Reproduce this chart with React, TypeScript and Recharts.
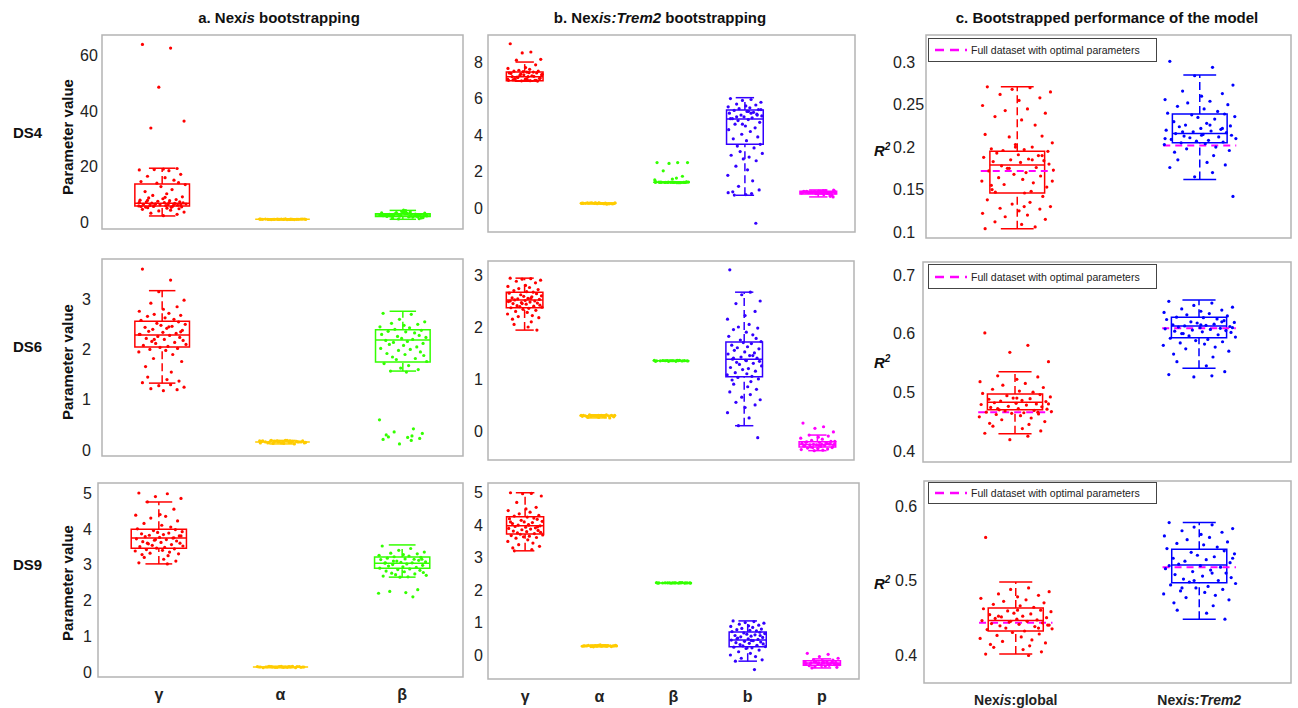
import React from 'react';
import { ComposedChart, XAxis, YAxis, Scatter, ReferenceArea, ReferenceLine } from 'recharts';

// category labels
const paramCatsA = ['γ', 'α', 'β'];
const paramCatsB = ['γ', 'α', 'β', 'b', 'p'];
const modelCats = ['Nexis:global', 'Nexis:Trem2'];

const colorsA = ['#ff0000', '#ffcc00', '#33ff00'];
const colorsB = ['#ff0000', '#ffcc00', '#33ff00', '#3300ff', '#ff00ff'];
const colorsC = ['#ff0000', '#0000ff'];

// hand-placed horizontal jitter (fraction of spread)
const JIT = [-0.82, 0.35, -0.14, 0.91, -0.47, 0.62, 0.05, -0.95, 0.28, -0.33, 0.77, -0.61, 0.12, 0.49, -0.88, 0.68, -0.22, 0.96, -0.05, 0.41,
  -0.71, 0.19, -0.39, 0.84, -0.56, 0.03, 0.58, -0.92, 0.31, -0.18, 0.73, -0.66, 0.09, 0.87, -0.43, 0.52, -0.27, 0.99, -0.78, 0.24,
  -0.09, 0.64, -0.51, 0.15, -0.97, 0.44, -0.36, 0.81, -0.69, 0.38, -0.6, 0.2, 0.7];

// box stats: [q1, median, q3, lowWhisker, highWhisker]
const a4Stats = [[5.8, 6.8, 13.7, 2.2, 19.4], [1.0, 1.0, 1.0, 0.8, 1.2], [2.0, 2.5, 3.0, 1.0, 4.2]];
const a4Points = [
  [64.0, 62.7, 48.6, 36.4, 33.9, 19.3, 19.1, 18.8, 18.5, 18.9, 17.2, 16.5, 16.0, 15.1, 14.6, 14.2, 14.0, 13.5, 12.8, 11.7, 11.0, 10.2, 9.6, 9.1, 8.7, 8.4, 8.1, 7.9, 7.7, 7.5, 7.3, 7.2, 7.0, 6.9, 6.8, 6.7, 6.6, 6.5, 6.4, 6.3, 6.2, 6.1, 6.0, 5.9, 5.8, 5.7, 5.6, 5.5, 5.4, 5.3, 5.2, 5.0, 4.8, 4.6, 4.3, 4.0, 3.6, 3.2, 2.8, 2.3, 7.1, 6.9, 5.9, 6.2, 7.8, 8.9, 6.4, 5.6],
  [1.0, 1.05, 0.95, 1.1, 0.9, 1.02, 0.98, 1.08, 0.92, 1.0, 1.04, 0.96, 1.12, 0.88, 1.01, 0.99, 1.06, 0.94, 1.03, 0.97, 1.09, 0.91, 1.0, 1.07, 0.93, 1.02, 0.98, 1.05, 0.95, 1.0],
  [2.3, 2.8, 2.1, 3.2, 2.6, 1.9, 3.5, 2.4, 2.0, 3.0, 1.5, 2.7, 4.1, 2.2, 3.3, 1.2, 2.9, 2.5, 3.8, 1.8, 2.6, 3.1, 2.3, 1.6, 2.8, 4.3, 2.1, 2.4, 3.6, 1.1, 2.7, 2.0, 3.0, 2.5, 1.4, 2.9, 3.4, 2.2, 2.6, 1.9, 2.4, 2.7, 2.2, 3.1],
];

const b4Stats = [[6.97, 7.2, 7.45, 6.95, 8.0], [0.27, 0.27, 0.27, 0.25, 0.3], [1.42, 1.42, 1.42, 1.4, 1.44], [3.5, 4.88, 5.37, 0.71, 6.05], [0.78, 0.86, 0.93, 0.62, 1.0]];
const b4Points = [
  [9.0, 8.55, 8.5, 8.15, 8.1, 7.85, 7.7, 7.65, 7.6, 7.55, 7.5, 7.5, 7.45, 7.45, 7.4, 7.4, 7.35, 7.3, 7.3, 7.25, 7.2, 7.2, 7.15, 7.1, 7.1, 7.05, 7.0, 7.0, 6.98, 6.97, 6.96, 7.02, 7.08, 7.12, 7.18, 7.22, 7.28, 7.33, 7.38, 7.42, 7.48, 7.0, 6.99, 7.03, 7.06],
  [0.27, 0.25, 0.29, 0.26, 0.28, 0.24, 0.3, 0.27, 0.26, 0.28, 0.25, 0.29, 0.27, 0.22, 0.28, 0.26, 0.27, 0.29, 0.25, 0.28, 0.27, 0.26, 0.3, 0.24, 0.27, 0.28, 0.26, 0.27, 0.25, 0.28],
  [2.5, 2.5, 2.45, 2.5, 2.05, 1.75, 1.6, 1.55, 1.65, 1.42, 1.41, 1.43, 1.42, 1.4, 1.44, 1.42, 1.41, 1.43, 1.42, 1.4, 1.43, 1.42, 1.41, 1.44, 1.42, 1.43, 1.41, 1.42, 1.4, 1.43, 1.42, 1.41, 1.42, 1.43],
  [6.0, 5.95, 5.9, 5.8, 5.7, 5.65, 5.6, 5.55, 5.5, 5.45, 5.4, 5.35, 5.3, 5.25, 5.2, 5.15, 5.1, 5.05, 5.0, 4.95, 4.9, 4.85, 4.8, 4.7, 4.6, 4.5, 4.4, 4.3, 4.2, 4.05, 3.9, 3.8, 3.7, 3.5, 3.4, 3.3, 3.1, 3.0, 2.9, 2.8, 2.7, 2.6, 2.3, 2.1, 1.8, 1.5, 1.2, 1.0, 0.9, 0.8, 0.72, 5.3, 5.1, 4.9, 5.2, 4.6, 5.4, 5.0, -0.82, 0.75, 0.85],
  [0.92, 0.85, 0.8, 0.95, 0.88, 0.78, 0.9, 0.83, 0.97, 0.86, 0.72, 0.89, 0.93, 0.81, 0.87, 0.65, 0.91, 0.84, 0.79, 0.96, 0.88, 0.82, 0.9, 0.62, 0.86, 0.94, 0.8, 0.87, 0.75, 0.89, 0.85, 0.92, 0.83, 0.99, 0.86],
];

const c4Stats = [[0.146, 0.179, 0.195, 0.104, 0.271], [0.205, 0.216, 0.239, 0.162, 0.285]];
const c4Refs = [0.172, 0.202];
const c4Points = [
  [0.271, 0.27, 0.268, 0.265, 0.262, 0.258, 0.255, 0.249, 0.245, 0.243, 0.24, 0.236, 0.232, 0.226, 0.215, 0.213, 0.212, 0.205, 0.203, 0.2, 0.198, 0.197, 0.196, 0.195, 0.193, 0.191, 0.19, 0.188, 0.186, 0.185, 0.184, 0.183, 0.182, 0.18, 0.178, 0.176, 0.175, 0.173, 0.172, 0.17, 0.168, 0.166, 0.164, 0.162, 0.16, 0.158, 0.156, 0.153, 0.15, 0.148, 0.147, 0.146, 0.142, 0.138, 0.135, 0.133, 0.13, 0.128, 0.127, 0.125, 0.122, 0.12, 0.118, 0.115, 0.112, 0.109, 0.106, 0.104, 0.19, 0.175, 0.16, 0.2, 0.185, 0.155, 0.13],
  [0.301, 0.294, 0.284, 0.273, 0.266, 0.263, 0.26, 0.256, 0.254, 0.252, 0.25, 0.248, 0.245, 0.242, 0.24, 0.239, 0.238, 0.236, 0.235, 0.233, 0.23, 0.228, 0.226, 0.225, 0.224, 0.222, 0.221, 0.22, 0.219, 0.218, 0.217, 0.216, 0.215, 0.214, 0.213, 0.212, 0.211, 0.21, 0.209, 0.208, 0.207, 0.206, 0.205, 0.204, 0.203, 0.2, 0.198, 0.196, 0.194, 0.19, 0.185, 0.182, 0.179, 0.176, 0.17, 0.165, 0.142, 0.218, 0.222, 0.214, 0.21, 0.226],
];

const a6Stats = [[2.05, 2.29, 2.56, 1.33, 3.17], [0.16, 0.16, 0.16, 0.12, 0.19], [1.75, 2.19, 2.39, 1.57, 2.76]];
const a6Points = [
  [3.6, 3.38, 3.15, 2.98, 2.92, 2.85, 2.8, 2.76, 2.72, 2.7, 2.68, 2.66, 2.63, 2.6, 2.58, 2.55, 2.52, 2.5, 2.48, 2.46, 2.44, 2.42, 2.4, 2.38, 2.36, 2.34, 2.32, 2.3, 2.28, 2.26, 2.24, 2.22, 2.2, 2.18, 2.16, 2.14, 2.12, 2.1, 2.08, 2.06, 2.04, 2.02, 2.0, 1.98, 1.95, 1.9, 1.82, 1.76, 1.66, 1.55, 1.45, 1.4, 1.37, 1.34, 1.3, 1.28, 1.25, 1.22, 1.2, 1.18, 2.3, 2.45, 2.2, 2.35],
  [0.18, 0.15, 0.17, 0.14, 0.19, 0.16, 0.13, 0.18, 0.15, 0.17, 0.16, 0.14, 0.19, 0.12, 0.17, 0.16, 0.18, 0.15, 0.14, 0.17, 0.16, 0.19, 0.13, 0.18, 0.15, 0.16, 0.17, 0.14, 0.18, 0.16],
  [2.72, 2.7, 2.6, 2.55, 2.52, 2.5, 2.48, 2.45, 2.43, 2.4, 2.38, 2.36, 2.35, 2.33, 2.3, 2.28, 2.26, 2.24, 2.22, 2.2, 2.18, 2.16, 2.14, 2.12, 2.1, 2.08, 2.05, 2.02, 2.0, 1.98, 1.95, 1.92, 1.9, 1.88, 1.85, 1.82, 1.8, 1.76, 1.72, 1.68, 1.63, 1.6, 1.57, 1.55, 0.6, 0.42, 0.36, 0.33, 0.3, 0.28, 0.26, 0.25, 0.23, 0.21, 0.19, 0.12],
];

const b6Stats = [[2.37, 2.52, 2.67, 1.94, 2.94], [0.29, 0.29, 0.29, 0.25, 0.31], [1.35, 1.35, 1.35, 1.34, 1.36], [1.04, 1.38, 1.71, 0.1, 2.67], [-0.31, -0.26, -0.21, -0.38, -0.08]];
const b6Points = [
  [2.94, 2.93, 2.92, 2.9, 2.88, 2.85, 2.8, 2.78, 2.76, 2.74, 2.72, 2.7, 2.68, 2.67, 2.65, 2.64, 2.62, 2.6, 2.59, 2.58, 2.56, 2.55, 2.54, 2.53, 2.52, 2.51, 2.5, 2.49, 2.48, 2.47, 2.46, 2.45, 2.44, 2.42, 2.41, 2.4, 2.39, 2.38, 2.37, 2.36, 2.34, 2.32, 2.3, 2.28, 2.25, 2.22, 2.2, 2.18, 2.15, 2.1, 2.05, 2.0, 1.94, 2.5, 2.55, 2.45],
  [0.3, 0.28, 0.29, 0.27, 0.31, 0.29, 0.26, 0.3, 0.28, 0.29, 0.3, 0.27, 0.29, 0.31, 0.28, 0.25, 0.29, 0.3, 0.28, 0.27, 0.29, 0.3, 0.28, 0.29, 0.26, 0.3],
  [1.35, 1.36, 1.34, 1.35, 1.355, 1.345, 1.35, 1.36, 1.34, 1.35, 1.352, 1.348, 1.35, 1.36, 1.34, 1.35, 1.355, 1.345, 1.35, 1.35],
  [3.1, 2.67, 2.62, 2.5, 2.45, 2.3, 2.22, 2.15, 2.05, 2.0, 1.98, 1.95, 1.9, 1.85, 1.82, 1.78, 1.75, 1.72, 1.7, 1.68, 1.65, 1.62, 1.6, 1.58, 1.55, 1.52, 1.5, 1.48, 1.45, 1.42, 1.4, 1.38, 1.36, 1.34, 1.32, 1.3, 1.28, 1.25, 1.22, 1.2, 1.18, 1.15, 1.12, 1.1, 1.08, 1.05, 1.03, 1.0, 0.98, 0.95, 0.9, 0.85, 0.8, 0.75, 0.7, 0.65, 0.6, 0.55, 0.5, 0.45, 0.35, 0.25, 0.1, -0.13, 1.4, 1.35, 1.45],
  [0.15, 0.08, 0.05, -0.02, -0.08, -0.1, -0.12, -0.14, -0.16, -0.18, -0.2, -0.21, -0.22, -0.23, -0.24, -0.25, -0.26, -0.26, -0.27, -0.28, -0.29, -0.3, -0.31, -0.32, -0.33, -0.34, -0.35, -0.36, -0.37, -0.38, -0.25, -0.22, -0.28, -0.3, -0.27, -0.24, -0.32, -0.2, -0.29, -0.26],
];

const c6Stats = [[0.47, 0.483, 0.497, 0.429, 0.535], [0.593, 0.613, 0.628, 0.541, 0.657]];
const c6Refs = [0.466, 0.609];
const c6Points = [
  [0.601, 0.58, 0.568, 0.552, 0.528, 0.526, 0.522, 0.518, 0.515, 0.512, 0.508, 0.505, 0.502, 0.5, 0.498, 0.496, 0.494, 0.492, 0.49, 0.489, 0.488, 0.486, 0.485, 0.484, 0.482, 0.481, 0.48, 0.479, 0.478, 0.476, 0.475, 0.474, 0.472, 0.471, 0.47, 0.469, 0.468, 0.467, 0.466, 0.465, 0.464, 0.463, 0.462, 0.46, 0.458, 0.456, 0.453, 0.45, 0.447, 0.445, 0.442, 0.438, 0.434, 0.43, 0.425, 0.419, 0.48, 0.472, 0.466, 0.49],
  [0.655, 0.652, 0.648, 0.645, 0.642, 0.64, 0.638, 0.636, 0.634, 0.632, 0.63, 0.628, 0.627, 0.625, 0.624, 0.622, 0.62, 0.619, 0.618, 0.616, 0.615, 0.614, 0.613, 0.612, 0.611, 0.61, 0.609, 0.608, 0.607, 0.606, 0.605, 0.604, 0.603, 0.602, 0.6, 0.598, 0.596, 0.594, 0.592, 0.59, 0.588, 0.586, 0.584, 0.582, 0.58, 0.577, 0.574, 0.57, 0.565, 0.56, 0.552, 0.545, 0.535, 0.53, 0.528, 0.526, 0.61, 0.6, 0.62, 0.615],
];

const a9Stats = [[3.46, 3.74, 3.99, 3.02, 4.75], [0.14, 0.14, 0.14, 0.12, 0.16], [2.9, 3.04, 3.21, 2.65, 3.55]];
const a9Points = [
  [5.0, 4.98, 4.9, 4.85, 4.75, 4.55, 4.4, 4.38, 4.35, 4.3, 4.22, 4.15, 4.1, 4.05, 4.0, 3.98, 3.95, 3.92, 3.9, 3.88, 3.86, 3.84, 3.82, 3.8, 3.78, 3.76, 3.74, 3.72, 3.7, 3.68, 3.66, 3.64, 3.62, 3.6, 3.58, 3.56, 3.54, 3.52, 3.5, 3.48, 3.46, 3.44, 3.42, 3.4, 3.38, 3.35, 3.32, 3.3, 3.28, 3.25, 3.2, 3.15, 3.1, 3.05, 3.02, 3.7, 3.8, 3.6, 3.75],
  [0.14, 0.15, 0.13, 0.14, 0.16, 0.12, 0.14, 0.15, 0.13, 0.14, 0.15, 0.14, 0.13, 0.16, 0.14, 0.15, 0.13, 0.14, 0.15, 0.14, 0.12, 0.14, 0.15, 0.13, 0.14, 0.16],
  [3.52, 3.45, 3.4, 3.35, 3.32, 3.3, 3.28, 3.26, 3.24, 3.22, 3.2, 3.18, 3.16, 3.15, 3.14, 3.12, 3.1, 3.08, 3.06, 3.05, 3.04, 3.02, 3.0, 2.98, 2.96, 2.94, 2.92, 2.9, 2.88, 2.86, 2.84, 2.82, 2.8, 2.78, 2.76, 2.74, 2.72, 2.7, 2.68, 2.66, 2.65, 2.3, 2.25, 2.22, 2.2, 2.1, 3.1, 3.15, 3.05],
];

const b9Stats = [[3.73, 3.98, 4.26, 3.21, 5.0], [0.28, 0.28, 0.28, 0.25, 0.31], [2.22, 2.22, 2.22, 2.21, 2.23], [0.25, 0.46, 0.71, -0.19, 1.05], [-0.32, -0.25, -0.18, -0.4, -0.12]];
const b9Points = [
  [5.0, 4.98, 4.97, 4.9, 4.7, 4.55, 4.5, 4.45, 4.4, 4.35, 4.3, 4.28, 4.25, 4.22, 4.2, 4.18, 4.15, 4.12, 4.1, 4.08, 4.05, 4.02, 4.0, 3.98, 3.96, 3.94, 3.92, 3.9, 3.88, 3.86, 3.84, 3.82, 3.8, 3.78, 3.76, 3.74, 3.72, 3.7, 3.68, 3.66, 3.64, 3.62, 3.6, 3.55, 3.5, 3.45, 3.4, 3.35, 3.3, 3.25, 3.21, 4.0, 3.95, 4.1],
  [0.28, 0.29, 0.27, 0.3, 0.26, 0.28, 0.31, 0.27, 0.29, 0.25, 0.28, 0.3, 0.27, 0.29, 0.28, 0.26, 0.29, 0.28, 0.3, 0.27, 0.28, 0.29, 0.27, 0.28],
  [2.22, 2.23, 2.21, 2.22, 2.225, 2.215, 2.22, 2.23, 2.21, 2.22, 2.222, 2.218, 2.22, 2.23, 2.21, 2.22, 2.225, 2.215, 2.22, 2.22],
  [1.05, 1.03, 1.0, 0.98, 0.95, 0.92, 0.9, 0.88, 0.85, 0.82, 0.8, 0.78, 0.76, 0.74, 0.72, 0.7, 0.68, 0.66, 0.64, 0.62, 0.6, 0.58, 0.56, 0.54, 0.52, 0.5, 0.48, 0.46, 0.44, 0.42, 0.4, 0.38, 0.36, 0.34, 0.32, 0.3, 0.28, 0.26, 0.24, 0.22, 0.2, 0.15, 0.1, 0.05, 0.0, -0.05, -0.1, -0.15, -0.19, -0.45, 0.5, 0.45, 0.6],
  [0.05, 0.02, -0.05, -0.1, -0.14, -0.16, -0.18, -0.2, -0.21, -0.22, -0.23, -0.24, -0.25, -0.26, -0.27, -0.28, -0.29, -0.3, -0.31, -0.32, -0.33, -0.34, -0.36, -0.38, -0.4, -0.25, -0.22, -0.28, -0.26, -0.24, -0.3, -0.27, -0.23, -0.29, -0.21],
];

const c9Stats = [[0.432, 0.446, 0.463, 0.401, 0.498], [0.497, 0.521, 0.542, 0.448, 0.578]];
const c9Refs = [0.443, 0.518];
const c9Points = [
  [0.558, 0.49, 0.488, 0.485, 0.482, 0.48, 0.478, 0.476, 0.474, 0.472, 0.47, 0.468, 0.466, 0.464, 0.462, 0.46, 0.459, 0.458, 0.456, 0.455, 0.454, 0.452, 0.451, 0.45, 0.449, 0.448, 0.447, 0.446, 0.445, 0.444, 0.443, 0.442, 0.441, 0.44, 0.439, 0.438, 0.436, 0.435, 0.434, 0.432, 0.43, 0.428, 0.426, 0.424, 0.422, 0.42, 0.418, 0.416, 0.414, 0.412, 0.41, 0.407, 0.404, 0.401, 0.399, 0.445, 0.44, 0.452, 0.436, 0.46],
  [0.578, 0.575, 0.572, 0.57, 0.567, 0.565, 0.562, 0.56, 0.558, 0.555, 0.552, 0.55, 0.548, 0.545, 0.543, 0.54, 0.538, 0.536, 0.534, 0.532, 0.53, 0.528, 0.526, 0.524, 0.522, 0.52, 0.518, 0.516, 0.514, 0.512, 0.51, 0.508, 0.506, 0.504, 0.502, 0.5, 0.498, 0.496, 0.494, 0.492, 0.49, 0.488, 0.486, 0.484, 0.482, 0.48, 0.477, 0.474, 0.47, 0.466, 0.46, 0.456, 0.448, 0.52, 0.51, 0.5, 0.53, 0.49],
];

const FONT = '"Liberation Sans", Arial, sans-serif';

const makeYTick = (lx: number) => (props: any) => (
  <text x={lx} y={props.y} dy="0.36em" textAnchor="start" fontSize={16} fill="#222" fontFamily={FONT}>
    {props.payload.value}
  </text>
);

const makeCatTick = (cats: string[]) => (props: any) => (
  <text x={props.x} y={props.y} dy="0.71em" textAnchor="middle" fontSize={16} fontWeight="bold" fill="#222" fontFamily={FONT}>
    {cats[props.payload.value - 1]}
  </text>
);

const modelTick = (props: any) => {
  const i = props.payload.value;
  return (
    <text x={props.x} y={props.y} dy="0.71em" textAnchor="middle" fontSize={14} fontWeight="bold" fill="#222" fontFamily={FONT}>
      <tspan>Nex</tspan>
      <tspan fontStyle="italic">is</tspan>
      {i === 1 ? <tspan>:global</tspan> : <tspan fontStyle="italic">:Trem2</tspan>}
    </text>
  );
};

function Panel(p: any) {
  const [L, T, R, B] = p.frame;
  const n = p.colors.length;
  const showX = !!p.xTick;
  const yW = p.yW;
  const width = yW + (R - L) + 2;
  const height = B - T + 2 + (showX ? 30 : 2);
  const lo = p.domain[0];
  const hi = p.domain[1];
  const ticksX = p.colors.map((_: string, i: number) => i + 1);
  const boxEls: any[] = [];
  p.stats.forEach((s: number[], i: number) => {
    const x = i + 1;
    const c = p.colors[i];
    const [q1, med, q3, wl, wh] = s;
    const bh = p.boxHalf;
    const ch = p.capHalf;
    boxEls.push(
      <ReferenceArea key={`box${i}`} x1={x - bh} x2={x + bh} y1={q1} y2={q3} fill="none" fillOpacity={0} stroke={c} strokeWidth={1.5} ifOverflow="visible" />
    );
    boxEls.push(<ReferenceLine key={`med${i}`} segment={[{ x: x - bh, y: med }, { x: x + bh, y: med }]} stroke={c} strokeWidth={1.5} ifOverflow="visible" />);
    if (wh > q3) boxEls.push(<ReferenceLine key={`wu${i}`} segment={[{ x, y: q3 }, { x, y: wh }]} stroke={c} strokeWidth={1.5} strokeDasharray="8 4" ifOverflow="visible" />);
    if (wl < q1) boxEls.push(<ReferenceLine key={`wl${i}`} segment={[{ x, y: wl }, { x, y: q1 }]} stroke={c} strokeWidth={1.5} strokeDasharray="8 4" ifOverflow="visible" />);
    if (wh > q3) boxEls.push(<ReferenceLine key={`cu${i}`} segment={[{ x: x - ch, y: wh }, { x: x + ch, y: wh }]} stroke={c} strokeWidth={1.5} ifOverflow="visible" />);
    if (wl < q1) boxEls.push(<ReferenceLine key={`cl${i}`} segment={[{ x: x - ch, y: wl }, { x: x + ch, y: wl }]} stroke={c} strokeWidth={1.5} ifOverflow="visible" />);
  });
  const refEls = (p.refs || []).map((r: number, i: number) => (
    <ReferenceLine key={`ref${i}`} segment={[{ x: i + 1 - 0.2, y: r }, { x: i + 1 + 0.2, y: r }]} stroke="#ff00ff" strokeWidth={2} strokeDasharray="7 5" ifOverflow="visible" />
  ));

  return (
    <div style={{ position: 'absolute', left: L - yW, top: T - 2 }}>
      <ComposedChart width={width} height={height} margin={{ top: 2, right: 2, bottom: showX ? 0 : 2, left: 0 }}>
        <XAxis
          type="number"
          dataKey="x"
          domain={[0.5, n + 0.5]}
          ticks={ticksX}
          allowDataOverflow
          hide={!showX}
          height={30}
          axisLine={false}
          tickLine={false}
          tickSize={0}
          tickMargin={12}
          interval={0}
          tick={p.xTick}
        />
        <YAxis
          type="number"
          dataKey="y"
          domain={[lo, hi]}
          ticks={p.ticks}
          allowDataOverflow
          width={yW}
          axisLine={false}
          tickLine={false}
          tickSize={0}
          interval={0}
          tick={makeYTick(p.labelX - (L - yW))}
        />
        <ReferenceArea x1={0.5} x2={n + 0.5} y1={lo} y2={hi} fill="none" fillOpacity={0} stroke="#b4b4b4" strokeWidth={1.5} ifOverflow="visible" />
        {boxEls}
        {refEls}
        {p.points.map((vals: number[], i: number) => (
          <Scatter
            key={`pts${i}`}
            data={vals.map((y, j) => ({ x: i + 1 + JIT[j % JIT.length] * p.spread, y }))}
            fill={p.colors[i]}
            isAnimationActive={false}
            shape={(sp: any) => <circle cx={sp.cx} cy={sp.cy} r={1.6} fill={p.colors[i]} />}
          />
        ))}
      </ComposedChart>
    </div>
  );
}

const Legend = ({ top, height }: { top: number; height: number }) => (
  <div
    style={{
      position: 'absolute', left: 928, top, width: 229, height, boxSizing: 'border-box',
      border: '1.5px solid #444', background: '#fff', display: 'flex', alignItems: 'center',
    }}
  >
    <svg width={40} height={10} style={{ marginLeft: 4 }}>
      <line x1={2} y1={5} x2={34} y2={5} stroke="#ff00ff" strokeWidth={2.5} strokeDasharray="9 6" />
    </svg>
    <span style={{ fontSize: 10.5, color: '#222', marginLeft: -2 }}>Full dataset with optimal parameters</span>
  </div>
);

const rowLabel = (text: string, y: number) => (
  <div style={{ position: 'absolute', left: 13, top: y - 9, fontSize: 15, fontWeight: 'bold', lineHeight: '18px' }}>{text}</div>
);

const paramLabel = (y: number) => (
  <div style={{ position: 'absolute', left: 67, top: y, transform: 'translate(-50%, -50%) rotate(-90deg)', fontSize: 15, fontWeight: 'bold', whiteSpace: 'nowrap' }}>
    Parameter value
  </div>
);

const r2Label = (y: number) => (
  <div style={{ position: 'absolute', left: 874, top: y - 9, fontSize: 15, fontWeight: 'bold', fontStyle: 'italic', lineHeight: '18px' }}>
    R<sup style={{ fontSize: 10 }}>2</sup>
  </div>
);

export default function App() {
  const titleStyle: any = { position: 'absolute', top: 9, fontSize: 15, fontWeight: 'bold', lineHeight: '18px', transform: 'translateX(-50%)', whiteSpace: 'nowrap' };
  return (
    <div style={{ position: 'absolute', left: 0, top: 0, width: 1298, height: 708, background: '#fff', fontFamily: FONT, color: '#111', overflow: 'hidden' }}>
      <div style={{ ...titleStyle, left: 279 }}>a. Nex<i>is</i> bootstrapping</div>
      <div style={{ ...titleStyle, left: 660 }}>b. Nex<i>is:Trem2</i> bootstrapping</div>
      <div style={{ ...titleStyle, left: 1107 }}>c. Bootstrapped performance of the model</div>

      {rowLabel('DS4', 133)}
      {rowLabel('DS6', 347)}
      {rowLabel('DS9', 565)}
      {paramLabel(137)}
      {paramLabel(362)}
      {paramLabel(583)}
      {r2Label(147)}
      {r2Label(359)}
      {r2Label(580)}

      <Panel frame={[102, 35, 463, 229]} yW={40} labelX={80} domain={[-2.5, 67.4]} ticks={[0, 20, 40, 60]}
        colors={colorsA} stats={a4Stats} points={a4Points} spread={0.2} boxHalf={0.227} capHalf={0.11} />
      <Panel frame={[488, 35, 855, 232]} yW={20} labelX={474} domain={[-1.3, 9.48]} ticks={[0, 2, 4, 6, 8]}
        colors={colorsB} stats={b4Stats} points={b4Points} spread={0.24} boxHalf={0.25} capHalf={0.125} />
      <Panel frame={[926, 35, 1291, 238]} yW={40} labelX={893} domain={[0.093, 0.332]} ticks={[0.1, 0.15, 0.2, 0.25, 0.3]}
        colors={colorsC} stats={c4Stats} points={c4Points} refs={c4Refs} spread={0.2} boxHalf={0.15} capHalf={0.09} />

      <Panel frame={[102, 259, 463, 456]} yW={40} labelX={82} domain={[-0.12, 3.8]} ticks={[0, 1, 2, 3]}
        colors={colorsA} stats={a6Stats} points={a6Points} spread={0.2} boxHalf={0.227} capHalf={0.11} />
      <Panel frame={[488, 261, 854, 460]} yW={20} labelX={474} domain={[-0.56, 3.27]} ticks={[0, 1, 2, 3]}
        colors={colorsB} stats={b6Stats} points={b6Points} spread={0.24} boxHalf={0.25} capHalf={0.125} />
      <Panel frame={[923, 262, 1291, 462]} yW={40} labelX={893} domain={[0.381, 0.722]} ticks={[0.4, 0.5, 0.6, 0.7]}
        colors={colorsC} stats={c6Stats} points={c6Points} refs={c6Refs} spread={0.2} boxHalf={0.15} capHalf={0.09} />

      <Panel frame={[98, 483, 463, 677]} yW={40} labelX={83} domain={[-0.14, 5.28]} ticks={[0, 1, 2, 3, 4, 5]}
        colors={colorsA} stats={a9Stats} points={a9Points} spread={0.2} boxHalf={0.227} capHalf={0.11} xTick={makeCatTick(paramCatsA)} />
      <Panel frame={[488, 483, 859, 679]} yW={20} labelX={474} domain={[-0.74, 5.3]} ticks={[0, 1, 2, 3, 4, 5]}
        colors={colorsB} stats={b9Stats} points={b9Points} spread={0.24} boxHalf={0.25} capHalf={0.125} xTick={makeCatTick(paramCatsB)} />
      <Panel frame={[924, 481, 1291, 683]} yW={40} labelX={895} domain={[0.362, 0.634]} ticks={[0.4, 0.5, 0.6]}
        colors={colorsC} stats={c9Stats} points={c9Points} refs={c9Refs} spread={0.2} boxHalf={0.15} capHalf={0.09} xTick={modelTick} />

      <Legend top={38} height={24} />
      <Legend top={264} height={25} />
      <Legend top={482} height={22} />
    </div>
  );
}
